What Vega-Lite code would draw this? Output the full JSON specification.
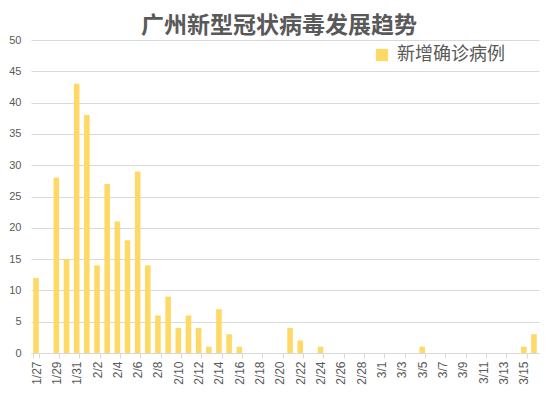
{
  "$schema": "https://vega.github.io/schema/vega-lite/v6.json",
  "width": 508,
  "height": 313,
  "autosize": {"type": "none"},
  "padding": {"left": 31, "top": 40, "right": 20, "bottom": 40},
  "background": "white",
  "title": {
    "text": "广州新型冠状病毒发展趋势",
    "fontSize": 23,
    "font": "Noto Sans CJK SC",
    "fontWeight": "bold",
    "color": "#595959",
    "anchor": "middle",
    "dx": -6,
    "offset": -4
  },
  "data": {
    "values": [
      {"d": "1/27", "v": 12}, {"d": "1/28", "v": 0}, {"d": "1/29", "v": 28}, {"d": "1/30", "v": 15},
      {"d": "1/31", "v": 43}, {"d": "2/1", "v": 38}, {"d": "2/2", "v": 14}, {"d": "2/3", "v": 27},
      {"d": "2/4", "v": 21}, {"d": "2/5", "v": 18}, {"d": "2/6", "v": 29}, {"d": "2/7", "v": 14},
      {"d": "2/8", "v": 6}, {"d": "2/9", "v": 9}, {"d": "2/10", "v": 4}, {"d": "2/11", "v": 6},
      {"d": "2/12", "v": 4}, {"d": "2/13", "v": 1}, {"d": "2/14", "v": 7}, {"d": "2/15", "v": 3},
      {"d": "2/16", "v": 1}, {"d": "2/17", "v": 0}, {"d": "2/18", "v": 0}, {"d": "2/19", "v": 0},
      {"d": "2/20", "v": 0}, {"d": "2/21", "v": 4}, {"d": "2/22", "v": 2}, {"d": "2/23", "v": 0},
      {"d": "2/24", "v": 1}, {"d": "2/25", "v": 0}, {"d": "2/26", "v": 0}, {"d": "2/27", "v": 0},
      {"d": "2/28", "v": 0}, {"d": "2/29", "v": 0}, {"d": "3/1", "v": 0}, {"d": "3/2", "v": 0},
      {"d": "3/3", "v": 0}, {"d": "3/4", "v": 0}, {"d": "3/5", "v": 1}, {"d": "3/6", "v": 0},
      {"d": "3/7", "v": 0}, {"d": "3/8", "v": 0}, {"d": "3/9", "v": 0}, {"d": "3/10", "v": 0},
      {"d": "3/11", "v": 0}, {"d": "3/12", "v": 0}, {"d": "3/13", "v": 0}, {"d": "3/14", "v": 0},
      {"d": "3/15", "v": 1}, {"d": "3/16", "v": 3}
    ]
  },
  "mark": {"type": "bar"},
  "encoding": {
    "x": {
      "field": "d",
      "type": "ordinal",
      "sort": null,
      "scale": {"paddingInner": 0.45, "paddingOuter": 0.22},
      "axis": {
        "title": null,
        "values": ["1/27","1/29","1/31","2/2","2/4","2/6","2/8","2/10","2/12","2/14","2/16","2/18","2/20","2/22","2/24","2/26","2/28","3/1","3/3","3/5","3/7","3/9","3/11","3/13","3/15"],
        "labelAngle": -90,
        "labelAlign": "right",
        "labelBaseline": "middle",
        "labelFontSize": 12,
        "labelColor": "#595959",
        "labelFont": "Liberation Sans",
        "labelPadding": 3,
        "tickBand": "extent",
        "tickColor": "#d9d9d9",
        "tickSize": 5,
        "domainColor": "#d9d9d9",
        "grid": false
      }
    },
    "y": {
      "field": "v",
      "type": "quantitative",
      "scale": {"domain": [0, 50], "nice": false},
      "axis": {
        "title": null,
        "values": [0,5,10,15,20,25,30,35,40,45,50],
        "domain": false,
        "ticks": false,
        "labelFontSize": 11,
        "labelColor": "#595959",
        "labelFont": "Liberation Sans",
        "labelPadding": 10,
        "gridColor": "#d9d9d9",
        "gridWidth": 1
      }
    },
    "color": {
      "datum": "新增确诊病例",
      "scale": {"range": ["#FFD966"]},
      "legend": {
        "title": null,
        "orient": "none",
        "legendX": 342,
        "legendY": 6,
        "symbolType": "square",
        "symbolSize": 150,
        "symbolStrokeWidth": 0,
        "labelFontSize": 18,
        "labelFont": "Noto Sans CJK SC",
        "labelColor": "#595959",
        "labelOffset": 6
      }
    }
  },
  "config": {"view": {"stroke": null}}
}
